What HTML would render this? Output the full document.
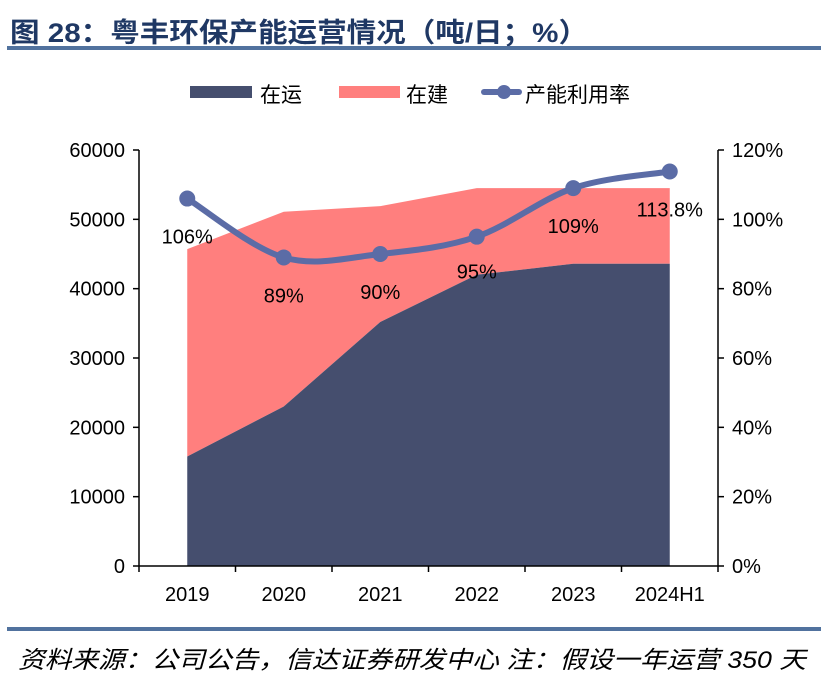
<!DOCTYPE html>
<html><head><meta charset="utf-8"><style>
body{margin:0;background:#fff;width:838px;height:685px;overflow:hidden;font-family:"Liberation Sans","Noto Sans CJK SC",sans-serif}
</style></head><body>
<svg width="838" height="685" xmlns="http://www.w3.org/2000/svg">
<text x="10" y="42" font-size="27" font-weight="bold" fill="#1f3864" textLength="578" lengthAdjust="spacingAndGlyphs">图 28：粤丰环保产能运营情况（吨/日；%）</text>
<rect x="7" y="46" width="814" height="4" fill="#51729e"/>
<g font-size="21" fill="#000">
<rect x="190" y="86" width="62" height="12" fill="#454e6e"/>
<text x="260" y="102">在运</text>
<rect x="339" y="86" width="61" height="12" fill="#ff7f7e"/>
<text x="406" y="102">在建</text>
<line x1="484" y1="92" x2="519" y2="92" stroke="#5b6ca6" stroke-width="6" stroke-linecap="round"/>
<circle cx="504" cy="92" r="7" fill="#5b6ca6"/>
<text x="525" y="102">产能利用率</text>
</g>
<g id="plot"></g>
<rect x="7" y="627" width="814" height="4" fill="#51729e"/>
<text x="18" y="668" font-size="24" font-style="italic" fill="#000" textLength="788" lengthAdjust="spacingAndGlyphs">资料来源：公司公告，信达证券研发中心  注：假设一年运营 350 天</text>
</svg>
<script>
const categories=["2019","2020","2021","2022","2023","2024H1"];
const running=[15800,23000,35200,42000,43600,43600];
const building=[29900,28100,16700,12500,10900,10900];
const rate=[106,89,90,95,109,113.8];
const rateLabels=["106%","89%","90%","95%","109%","113.8%"];
const leftTicks=[0,10000,20000,30000,40000,50000,60000];
const rightTicks=[0,20,40,60,80,100,120];
const NS="http://www.w3.org/2000/svg";
const g=document.getElementById('plot');
const x0=139,x1=718,y0=566,y1=150;
const step=(x1-x0)/categories.length;
const xs=i=>x0+step*(i+0.5);
const yL=v=>y0-(v/60000)*(y0-y1);
const yR=v=>y0-(v/120)*(y0-y1);
function mk(t,a){const e=document.createElementNS(NS,t);for(const k in a)e.setAttribute(k,a[k]);g.appendChild(e);return e;}
let tops=running.map((v,i)=>v+building[i]);
let p="M"+xs(0)+","+y0;
tops.forEach((v,i)=>p+=" L"+xs(i)+","+yL(v));
for(let i=running.length-1;i>=0;i--)p+=" L"+xs(i)+","+yL(running[i]);
let a=mk('path',{d:p+"Z",fill:"#ff7f7e"});


p="M"+xs(0)+","+y0;
running.forEach((v,i)=>p+=" L"+xs(i)+","+yL(v));
p+=" L"+xs(running.length-1)+","+y0+"Z";
a=mk('path',{d:p,fill:"#454e6e"});


let ax=mk('line',{x1:x0,y1:y0,x2:x1,y2:y0,stroke:"#000","stroke-width":1.5});


ax=mk('line',{x1:x0,y1:y1,x2:x0,y2:y0,stroke:"#000","stroke-width":1.5});


ax=mk('line',{x1:x1,y1:y1,x2:x1,y2:y0,stroke:"#000","stroke-width":1.5});


for(let i=0;i<=categories.length;i++){const tx=x0+step*i;mk('line',{x1:tx,y1:y0,x2:tx,y2:y0+6,stroke:"#000","stroke-width":1.5});}
leftTicks.forEach(v=>{const y=yL(v);mk('line',{x1:x0-6,y1:y,x2:x0,y2:y,stroke:"#000","stroke-width":1.5});
const t=mk('text',{x:x0-14,y:y+7,"text-anchor":"end","font-size":20});t.textContent=v;

});
rightTicks.forEach(v=>{const y=yR(v);mk('line',{x1:x1,y1:y,x2:x1+6,y2:y,stroke:"#000","stroke-width":1.5});
const t=mk('text',{x:x1+14,y:y+7,"font-size":20});t.textContent=v+"%";

});
categories.forEach((c,i)=>{const t=mk('text',{x:xs(i),y:y0+35,"text-anchor":"middle","font-size":20});t.textContent=c;

});
const pts=rate.map((v,i)=>[xs(i),yR(v)]);
let d="M"+pts[0][0]+","+pts[0][1];
for(let i=0;i<pts.length-1;i++){const p0=pts[Math.max(0,i-1)],p1=pts[i],p2=pts[i+1],p3=pts[Math.min(pts.length-1,i+2)];
d+=` C${p1[0]+(p2[0]-p0[0])/6},${p1[1]+(p2[1]-p0[1])/6} ${p2[0]-(p3[0]-p1[0])/6},${p2[1]-(p3[1]-p1[1])/6} ${p2[0]},${p2[1]}`;}
const ln=mk('path',{d:d,fill:"none",stroke:"#5b6ca6","stroke-width":6,"stroke-linecap":"round"});


const off=[45,45,45,42,45,45];
pts.forEach((q,i)=>{const c=mk('circle',{cx:q[0],cy:q[1],r:8,fill:"#5b6ca6"});


const t=mk('text',{x:q[0],y:q[1]+off[i],"text-anchor":"middle","font-size":20});t.textContent=rateLabels[i];

});
</script>
</body></html>
